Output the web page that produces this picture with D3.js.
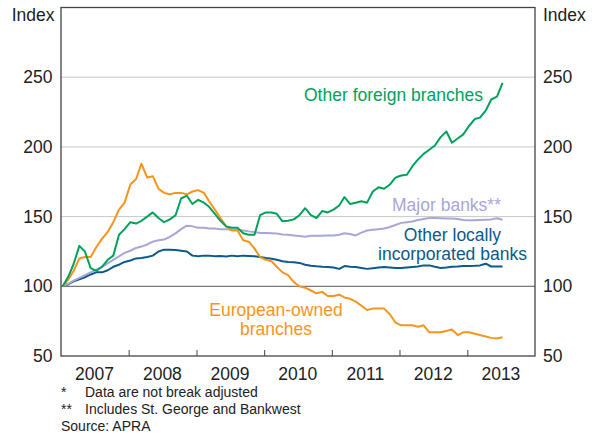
<!DOCTYPE html>
<html>
<head>
<meta charset="utf-8">
<script src="https://cdn.jsdelivr.net/npm/d3@7"></script>
<style>
  body { margin: 0; background: #fff; }
  svg { display: block; }
</style>
</head>
<body>
<script>
// monthly index, Jan 2007 = 100, last obs Jul 2013
var otherForeign = [100, 107, 116, 129, 125, 113, 111, 114, 119, 122, 137, 141,
    146, 145, 147, 150, 153, 149, 146, 148, 151, 163, 165, 159,
    162, 160, 157, 152, 147, 143, 142, 142, 138, 137, 137, 151,
    153, 153, 152, 146.6, 147, 148, 151, 156, 151, 149, 154, 153,
    155, 158, 164, 159, 160, 161, 160, 168, 171, 170, 173, 178,
    179.5, 180, 186, 191, 195, 198, 201, 207, 211, 203, 206, 209,
    215, 220, 221, 226, 234, 236, 246];

var majorBanks = [100, 102, 104, 106, 108, 110, 112, 114, 116.5, 119, 121.5, 124,
    125.5, 127.5, 128.5, 130, 132, 133, 133.5, 135.5, 138, 141, 143.5, 143,
    142, 142, 141.5, 141.5, 141, 141, 140.6, 140.5, 140, 139.4, 139, 138.3,
    138.3, 138, 137.8, 137.2, 137, 136.5, 136, 135.5, 136.3, 136.3, 136.3, 136.5,
    136.5, 137, 138, 137.5, 136.5, 138.5, 140, 140.5, 141, 141.5, 142.5, 144,
    145.5, 146, 146.5, 147.5, 148.3, 149, 149, 148.8, 148.6, 148.6, 148.2, 147.5,
    147.3, 147.3, 147.5, 147.8, 148, 148.8, 147.8];

var otherLocal = [100, 101.5, 103.5, 105, 106.5, 108.5, 110, 110, 111.5, 114, 115.5, 117.5,
    118.5, 120, 120.3, 121, 122, 125, 126.3, 126.3, 126, 125.5, 125, 122,
    121.5, 122, 122, 121.5, 121.8, 121.4, 122, 121.5, 122, 121.8, 121.5, 121,
    120.3, 119.8, 119, 118, 117.5, 117.2, 116.8, 115.5, 114.7, 114.3, 114, 113.8,
    113.5, 112.5, 114.5, 114, 113.8, 113.2, 112.5, 113, 113.5, 113.8, 113.5, 113.2,
    113.2, 113.5, 113.8, 114.2, 115, 115, 114, 113.2, 113.5, 114, 114.2, 114.5,
    114.5, 114.7, 115, 116.2, 114.2, 114.2, 114.2];

var european = [100, 105, 111, 120, 121, 121, 128, 134, 139, 146, 155, 160,
    173, 177, 188, 178, 179, 170, 167, 166, 167, 167, 166, 168,
    169, 167, 161, 155, 149, 143, 140, 140, 133, 132, 127, 121,
    119, 118, 114, 110, 108, 103, 100, 99, 97, 95, 96, 93,
    93, 94, 92, 91, 89, 86, 83, 84, 84, 84, 80, 74,
    72, 72, 72, 71, 72, 67, 67, 67, 68, 69, 65, 67,
    67, 66, 65, 64, 63, 62.5, 63.4];

var years = [2007, 2008, 2009, 2010, 2011, 2012, 2013];
var yTicks = [50, 100, 150, 200, 250];
var footnotes = [
    ["*", "Data are not break adjusted"],
    ["**", "Includes St. George and Bankwest"]
];
var source = "Source: APRA";

var width = 597;
var height = 435;
var plotLeft = 61, plotRight = 535, plotTop = 7.5, plotBottom = 356;
var fontsize = 17.5;
var font = "Liberation Sans, Arial, sans-serif";

var colours = {
    foreign: "#00a15c",
    major: "#a9a6d8",
    local: "#0b5a8a",
    euro: "#f7941d"
};

// observation dates, months from Jan 2007
var months = d3.timeMonth.range(new Date(2007, 0, 1), new Date(2013, 7, 1))
    .map(function (d) { return d3.timeDay.offset(d, 9); });

var x = d3.scaleTime()
    .domain([new Date(2007, 0, 1), new Date(2014, 0, 1)])
    .range([plotLeft, plotRight]);

var y = d3.scaleLinear()
    .domain([50, 300])
    .range([plotBottom, plotTop]);

var svg = d3.select("body").append("svg")
    .attr("width", width)
    .attr("height", height)
    .attr("font-family", font);

// gridlines
svg.append("g")
    .selectAll("line")
    .data([150, 200, 250])
    .enter().append("line")
    .attr("x1", plotLeft).attr("x2", plotRight)
    .attr("y1", function (d) { return y(d); })
    .attr("y2", function (d) { return y(d); })
    .attr("stroke", "#c8c8c8")
    .attr("stroke-width", 1);

svg.append("line")
    .attr("x1", plotLeft).attr("x2", plotRight)
    .attr("y1", y(100)).attr("y2", y(100))
    .attr("stroke", "#555")
    .attr("stroke-width", 1);

// bottom axis, ticks at year boundaries pointing inwards
var xAxis = d3.axisBottom(x)
    .tickValues(d3.timeYear.range(new Date(2008, 0, 1), new Date(2014, 0, 1)))
    .tickSizeInner(-6)
    .tickSizeOuter(0)
    .tickFormat("");

svg.append("g")
    .attr("transform", "translate(0," + plotBottom + ")")
    .call(xAxis)
    .call(function (g) {
        g.select(".domain").remove();
        g.selectAll(".tick line").attr("stroke", "#444").attr("stroke-width", 1);
    });

svg.append("g")
    .selectAll("text")
    .data(years)
    .enter().append("text")
    .attr("x", function (d) { return x(new Date(d, 6, 1)); })
    .attr("y", 380)
    .attr("text-anchor", "middle")
    .attr("font-size", fontsize)
    .attr("fill", "#222")
    .text(function (d) { return d; });

// y tick labels both sides
var yl = svg.append("g");
yl.selectAll(".yl")
    .data(yTicks)
    .enter().append("text")
    .attr("class", "yl")
    .attr("x", 52.5)
    .attr("y", function (d) { return y(d); })
    .attr("dy", "0.35em")
    .attr("text-anchor", "end")
    .attr("font-size", fontsize)
    .attr("fill", "#222")
    .text(function (d) { return d; });

yl.selectAll(".yr")
    .data(yTicks)
    .enter().append("text")
    .attr("class", "yr")
    .attr("x", 543)
    .attr("y", function (d) { return y(d); })
    .attr("dy", "0.35em")
    .attr("text-anchor", "start")
    .attr("font-size", fontsize)
    .attr("fill", "#222")
    .text(function (d) { return d; });

svg.append("text")
    .attr("x", 54.5).attr("y", 20.5)
    .attr("text-anchor", "end")
    .attr("font-size", fontsize)
    .attr("fill", "#222")
    .text("Index");

svg.append("text")
    .attr("x", 543).attr("y", 20.5)
    .attr("font-size", fontsize)
    .attr("fill", "#222")
    .text("Index");

// series
var line = d3.line()
    .x(function (d, i) { return x(months[i]); })
    .y(function (d) { return y(d); });

var series = [
    [otherLocal, colours.local],
    [majorBanks, colours.major],
    [european, colours.euro],
    [otherForeign, colours.foreign]
];

series.forEach(function (s) {
    svg.append("path")
        .datum(s[0])
        .attr("d", line)
        .attr("fill", "none")
        .attr("stroke", s[1])
        .attr("stroke-width", 2)
        .attr("stroke-linejoin", "round");
});

// frame
svg.append("rect")
    .attr("x", plotLeft).attr("y", plotTop)
    .attr("width", plotRight - plotLeft).attr("height", plotBottom - plotTop)
    .attr("fill", "none")
    .attr("stroke", "#444")
    .attr("stroke-width", 1.3);

// series labels
function label(lines, x0, y0, anchor, colour) {
    var t = svg.append("text")
        .attr("font-size", fontsize)
        .attr("fill", colour)
        .attr("text-anchor", anchor);
    lines.forEach(function (l, i) {
        t.append("tspan")
            .attr("x", x0)
            .attr("y", y0 + i * 19)
            .text(l);
    });
}

label(["Other foreign branches"], 483, 101, "end", colours.foreign);
label(["Major banks**"], 501, 210.5, "end", colours.major);
label(["Other locally", "incorporated banks"], 452.5, 240.5, "middle", colours.local);
label(["European-owned", "branches"], 276, 315.5, "middle", colours.euro);

// footnotes
var fn = svg.append("g").attr("font-size", 14).attr("fill", "#222");
footnotes.forEach(function (f, i) {
    fn.append("text").attr("x", 61).attr("y", 397 + i * 17).text(f[0]);
    fn.append("text").attr("x", 85).attr("y", 397 + i * 17).text(f[1]);
});
fn.append("text").attr("x", 61).attr("y", 431).text(source);
</script>
</body>
</html>
